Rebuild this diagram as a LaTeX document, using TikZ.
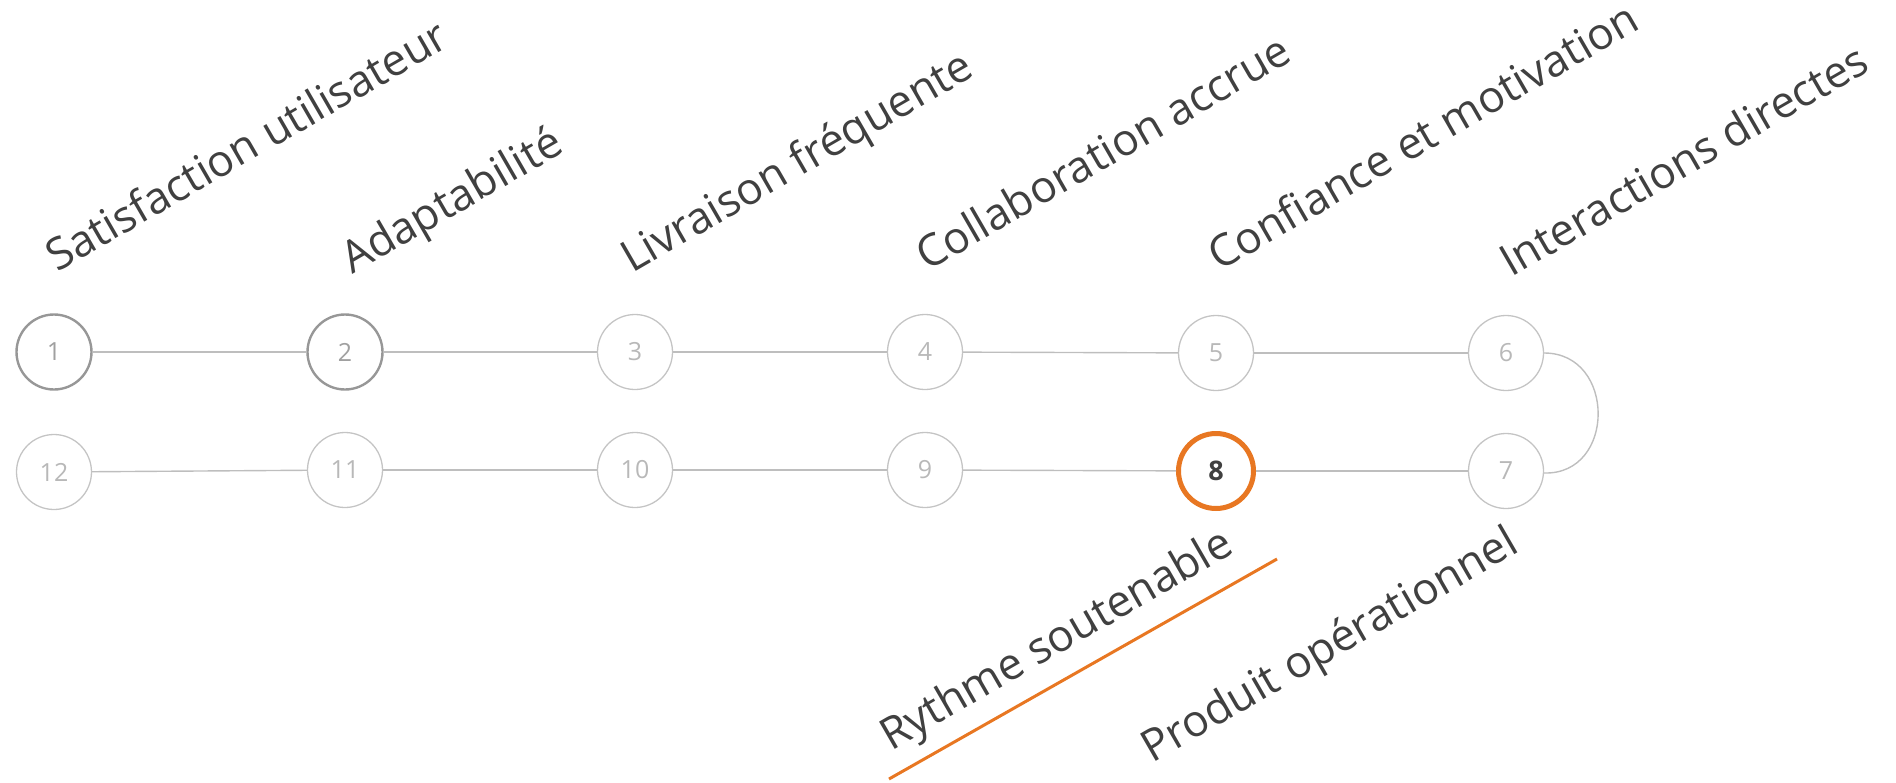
\documentclass[tikz,border=0pt]{standalone}
\usepackage{fontspec}
\setmainfont{Open Sans}
\definecolor{txt}{HTML}{404040}
\definecolor{ringlight}{HTML}{C4C4C4}
\definecolor{ringdark}{HTML}{979797}
\definecolor{numlight}{HTML}{B8B8B8}
\definecolor{numdark}{HTML}{A0A0A0}
\definecolor{linkgray}{HTML}{BEBEBE}
\definecolor{accent}{HTML}{E87722}
\tikzset{
  stepnode/.style={circle, draw=ringlight, line width=1.3pt, minimum size=75pt, inner sep=0pt,
    text=numlight, font=\fontsize{25}{30}\selectfont},
  donenode/.style={stepnode, draw=ringdark, line width=2.4pt, text=numdark},
  curnode/.style={stepnode, draw=accent, line width=5pt, text=txt, font=\fontsize{27}{30}\selectfont\bfseries},
  link/.style={draw=linkgray, line width=1.4pt},
  toplabel/.style={rotate=30, anchor=base west, inner sep=0pt, text=txt, font=\fontsize{44}{52}\selectfont},
  botlabel/.style={rotate=30, anchor=base east, inner sep=0pt, text=txt, font=\fontsize{44}{52}\selectfont},
}
\begin{document}
\begin{tikzpicture}[x=1pt, y=-1pt]
\useasboundingbox (0,0) rectangle (1896,782);
% top row
\node[donenode] (n1) at (54,352) {1};
\node[donenode] (n2) at (345,352) {2};
\node[stepnode] (n3) at (635,352) {3};
\node[stepnode] (n4) at (925,352) {4};
\node[stepnode] (n5) at (1216,353) {5};
\node[stepnode] (n6) at (1506,353) {6};
% bottom row
\node[stepnode] (n12) at (54,472) {12};
\node[stepnode] (n11) at (345,470) {11};
\node[stepnode] (n10) at (635,470) {10};
\node[stepnode] (n9) at (925,470) {9};
\node[curnode] (n8) at (1216,471) {8};
\node[stepnode] (n7) at (1506,471) {7};
% connectors
\draw[link] (n1) -- (n2);
\draw[link] (n2) -- (n3);
\draw[link] (n3) -- (n4);
\draw[link] (n4) -- (n5);
\draw[link] (n5) -- (n6);
\draw[link] (n6.east) .. controls +(72,0) and +(72,2) .. ([yshift=-2pt]n7.east);
\draw[link] (n7) -- (n8);
\draw[link] (n8) -- (n9);
\draw[link] (n9) -- (n10);
\draw[link] (n10) -- (n11);
\draw[link] (n11) -- (n12);
% labels
\node[toplabel] (l1) at (57,273) {Satisfaction utilisateur};
\node[toplabel] (l2) at (352,275) {Adaptabilité};
\node[toplabel] (l3) at (632,274) {Livraison fréquente};
\node[toplabel] (l4) at (927,272) {Collaboration accrue};
\node[toplabel] (l5) at (1219,272) {Confiance et motivation};
\node[toplabel] (l6) at (1511,278) {Interactions directes};
\node[botlabel] (l8) at (1236,552) {Rythme soutenable};
\node[botlabel] (l7) at (1521,551) {Produit opérationnel};
% highlight underline
\coordinate (u1) at (889,779);
\coordinate (u2) at (1277,559);
\draw[accent, line width=3pt] (u1) -- (u2);
\end{tikzpicture}
\end{document}
